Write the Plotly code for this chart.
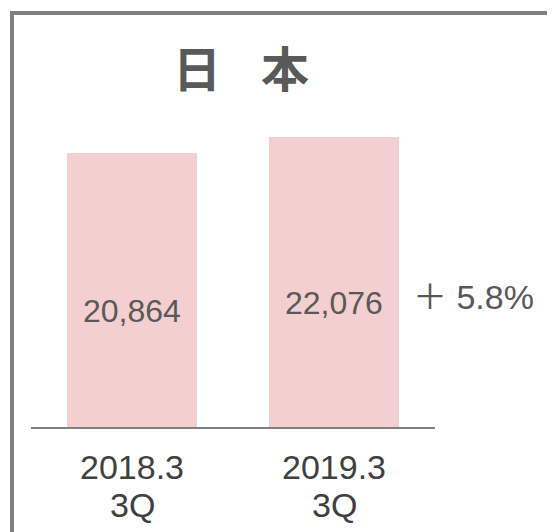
import plotly.graph_objects as go

categories = ["2018.3", "2019.3"]
quarters = ["3Q", "3Q"]
values = [20864, 22076]
value_labels = ["20,864", "22,076"]
title_text = "日\u2002\u2004本"
growth_sign = "＋"
growth_value = "5.8%"

OFF = 8  # page body margin
W, H = 555 - OFF, 532 - OFF
# target screen positions of the plot area
X0, X1, Y0, Y1 = 31, 435, 100, 427
L, R, T, B = X0 - OFF, W - (X1 - OFF), Y0 - OFF, H - (Y1 - OFF)
PW, PH = X1 - X0, Y1 - Y0


def px(x):
    return (x - X0) / PW


def py(y):
    return (Y1 - y) / PH


num_font = "Liberation Sans, Arial, sans-serif"
cjk_font = "Noto Sans CJK JP"

fig = go.Figure()
fig.add_trace(go.Bar(
    x=categories, y=values,
    marker=dict(color="#F4CFD0", line=dict(width=0)),
    hoverinfo="skip",
))

annotations = []
for i, (v, lab) in enumerate(zip(values, value_labels)):
    annotations.append(dict(
        x=i, y=v / 2, xref="x", yref="y", text=lab, showarrow=False,
        yshift=-21, font=dict(family=num_font, size=32, color="#595959"),
    ))
for i, q in enumerate(quarters):
    annotations.append(dict(
        x=i, y=py(505), xref="x", yref="paper", text=q, showarrow=False,
        yanchor="middle", font=dict(family=num_font, size=34, color="#404040"),
    ))
annotations.append(dict(
    x=px(411), y=py(294), xref="paper", yref="paper",
    text=f"<span style='font-family:{cjk_font}'>{growth_sign}</span> {growth_value}",
    showarrow=False, xanchor="left", yanchor="middle",
    font=dict(family=num_font, size=34, color="#595959"),
))
annotations.append(dict(
    x=px(241), y=py(66), xref="paper", yref="paper", text="<b>" + title_text + "</b>",
    showarrow=False, xanchor="center", yanchor="middle",
    font=dict(family=cjk_font, size=48, color="#595959"),
))

fig.update_layout(
    width=W, height=H,
    margin=dict(l=L, r=R, t=T, b=B),
    paper_bgcolor="white", plot_bgcolor="white",
    showlegend=False,
    bargap=0.356,
    annotations=annotations,
    shapes=[dict(
        type="rect", xref="paper", yref="paper",
        x0=px(12), x1=px(600), y0=py(600), y1=py(13),
        line=dict(color="#808080", width=4), fillcolor="rgba(0,0,0,0)", layer="above",
    )],
    xaxis=dict(
        type="category", range=[-0.5, 1.5], showgrid=False, zeroline=False,
        showline=True, linecolor="#808080", linewidth=2, ticks="",
        tickfont=dict(family=num_font, size=34, color="#404040"),
        ticklabelstandoff=9,
    ),
    yaxis=dict(
        range=[0, 24900], visible=False, showgrid=False, zeroline=False,
    ),
)

fig.write_html("out.html")
